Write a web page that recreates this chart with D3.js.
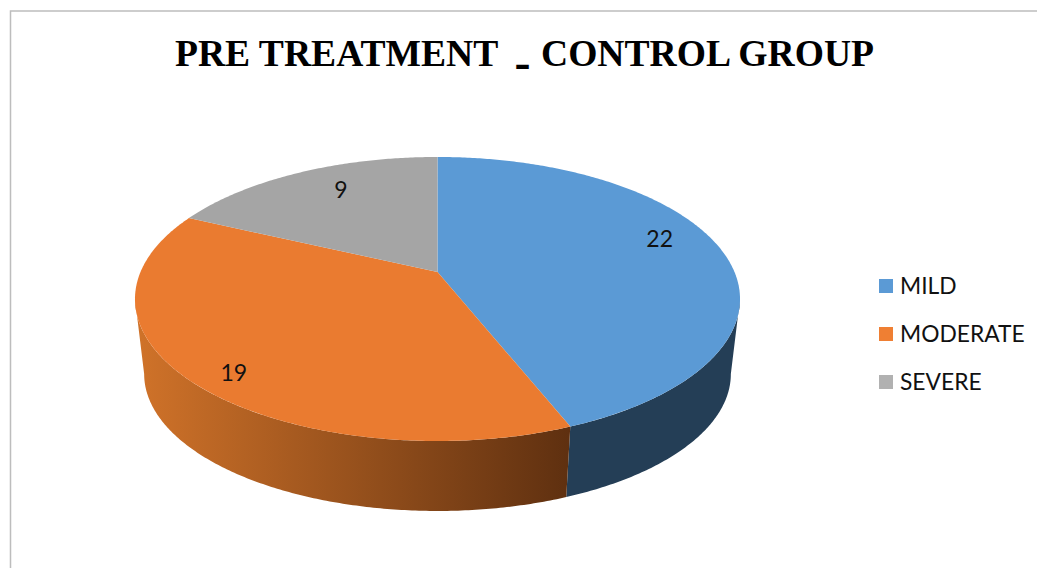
<!DOCTYPE html>
<html>
<head>
<meta charset="utf-8">
<script src="https://cdn.jsdelivr.net/npm/d3@7"></script>
<style>
  html, body { margin: 0; padding: 0; background: #fff; }
  svg { display: block; }
</style>
</head>
<body>
<svg id="chart" width="1037" height="568"></svg>
<script>
const categories = ['MILD', 'MODERATE', 'SEVERE'];
const values = [22, 19, 9];
const colors = ['#5b9ad5', '#ea7b30', '#a5a5a5'];
const legendColors = ['#5b9ad5', '#ef7f33', '#b1b1b1'];
const titleParts = ['PRE TREATMENT', '-', 'CONTROL GROUP'];

const width = 1037;
const height = 568;
const svg = d3.select('#chart').attr('viewBox', `0 0 ${width} ${height}`);

// Tilted disc: perspective projection of a unit circle, apex is the pie centre
const perspective = 0.19;
const topFace = { cx: 437.5, cy: 272, rx: 297, ry: 136.9 };
const bottomFace = { cx: 437.5, cy: 348, rx: 288, ry: 132 };

// Angles where the disc silhouette turns, walls only show between these two
const wallStart = Math.acos(-perspective);
const wallEnd = 2 * Math.PI - wallStart;

function project(face, angle, r = 1) {
  const u = Math.sin(angle) * r;
  const v = Math.cos(angle) * r;
  const w = 1 + perspective * v;
  return [face.cx + (face.rx * u) / w, face.cy - (face.ry * v) / w];
}

function arcPoints(face, start, end) {
  const n = Math.max(2, Math.ceil((end - start) / 0.01));
  return d3.range(n + 1).map(i => project(face, start + ((end - start) * i) / n));
}

const line = d3.line();
const pie = d3.pie().sort(null).value(d => d);
const slices = pie(values);
const color = d3.scaleOrdinal().domain(categories).range(colors);

// Frame of the chart area, only top and left are visible
svg
  .append('path')
  .attr('d', `M10.5,${height}V11H${width}`)
  .attr('fill', 'none')
  .attr('stroke', '#bdbdbd')
  .attr('stroke-width', 1.5);

// Title, the dash is heavier, sits low and apart from the words
const titleX = [175, 514.5, 541];
const titleY = [66, 78, 66];
const titleSize = [37.6, 48, 37.6];
svg
  .append('g')
  .selectAll('text')
  .data(titleParts)
  .join('text')
  .attr('x', (d, i) => titleX[i])
  .attr('y', (d, i) => titleY[i])
  .attr('font-family', '"Liberation Serif", serif')
  .attr('font-weight', 'bold')
  .attr('font-size', (d, i) => titleSize[i])
  .attr('fill', '#000')
  .text(d => d);

// Side walls
const defs = svg.append('defs');
const wallShades = [
  ['#243e56', '#243e56'],
  ['#cf7229', '#5f3010'],
  ['#6a6a6a', '#6a6a6a'],
];
wallShades.forEach((shade, i) => {
  const gradient = defs
    .append('linearGradient')
    .attr('id', `wall-${i}`)
    .attr('gradientUnits', 'userSpaceOnUse')
    .attr('x1', 140)
    .attr('x2', 569)
    .attr('y1', 0)
    .attr('y2', 0);
  gradient.append('stop').attr('offset', 0).attr('stop-color', shade[0]);
  gradient.append('stop').attr('offset', 1).attr('stop-color', shade[1]);
});

svg
  .append('g')
  .selectAll('path')
  .data(slices)
  .join('path')
  .attr('fill', (d, i) => `url(#wall-${i})`)
  .attr('d', d => {
    const start = Math.max(d.startAngle, wallStart);
    const end = Math.min(d.endAngle, wallEnd);
    if (end <= start) return null;
    const upper = arcPoints(topFace, start, end);
    const lower = arcPoints(bottomFace, start, end).reverse();
    return line(upper.concat(lower)) + 'Z';
  });

// Top face
svg
  .append('g')
  .selectAll('path')
  .data(slices)
  .join('path')
  .attr('fill', (d, i) => color(categories[i]))
  .attr('d', d => {
    const apex = [topFace.cx, topFace.cy];
    return line([apex].concat(arcPoints(topFace, d.startAngle, d.endAngle))) + 'Z';
  });

// Data labels, nudged from the slice mid angle the way the original places them
const labelRadius = 0.79;
const labelNudge = [[-2, -13], [-13, 18], [15, -1]];
svg
  .append('g')
  .selectAll('text')
  .data(slices)
  .join('text')
  .attr('transform', (d, i) => {
    const p = project(topFace, (d.startAngle + d.endAngle) / 2, labelRadius);
    return `translate(${p[0] + labelNudge[i][0]},${p[1] + labelNudge[i][1]})`;
  })
  .attr('text-anchor', 'middle')
  .attr('dy', '0.35em')
  .attr('font-family', 'Lato, sans-serif')
  .attr('font-size', 23)
  .attr('fill', '#111')
  .text(d => d.data);

// Legend
const legendY = d3.scalePoint().domain(categories).range([286, 382]);
const legend = svg
  .append('g')
  .selectAll('g')
  .data(categories)
  .join('g')
  .attr('transform', d => `translate(879,${legendY(d)})`);

legend
  .append('rect')
  .attr('x', 0)
  .attr('y', -7)
  .attr('width', 14)
  .attr('height', 14)
  .attr('fill', (d, i) => legendColors[i]);

legend
  .append('text')
  .attr('x', 21)
  .attr('dy', '0.36em')
  .attr('font-family', 'Lato, sans-serif')
  .attr('font-size', 22.8)
  .attr('fill', '#111')
  .text(d => d);
</script>
</body>
</html>
